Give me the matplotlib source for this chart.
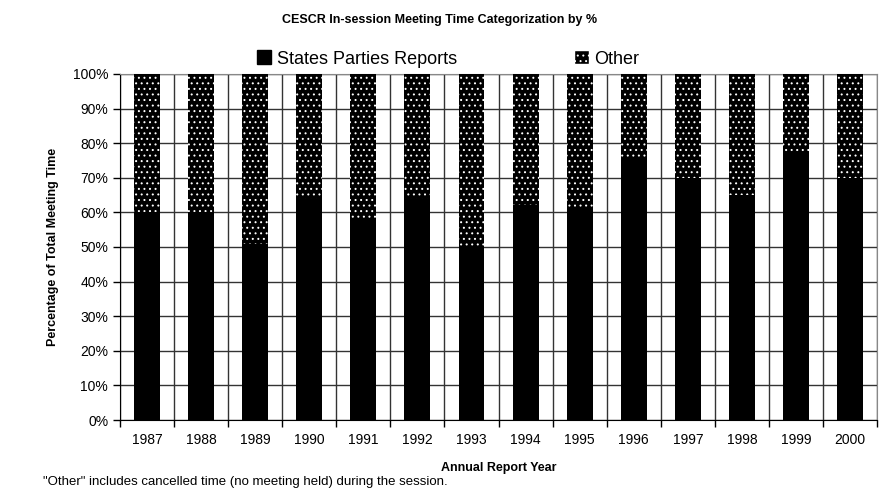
import numpy as np
import matplotlib
matplotlib.use('Agg')
import matplotlib.pyplot as plt
from matplotlib.patches import Patch
from matplotlib.ticker import FixedLocator, PercentFormatter

plt.rcParams['font.family'] = ['Liberation Sans', 'DejaVu Sans']
plt.rcParams['hatch.linewidth'] = 0.7

# data
years = ['1987', '1988', '1989', '1990', '1991', '1992', '1993',
         '1994', '1995', '1996', '1997', '1998', '1999', '2000']
reports = [60, 60, 51, 64, 58, 64, 50, 62, 61, 75, 70, 65, 77, 70]
other = [100 - v for v in reports]

fig = plt.figure(figsize=(8.96, 5.03), dpi=100, facecolor='white')
ax = fig.add_axes([0.1339, 0.165, 0.845, 0.688])

x = np.arange(len(years))
ax.bar(x, reports, width=0.48, color='black', linewidth=0, zorder=3)
ax.bar(x, other, bottom=reports, width=0.48, color='black',
       edgecolor='white', hatch='...', linewidth=0, zorder=3)

ax.set_xlim(-0.5, len(years) - 0.5)
ax.set_ylim(0, 100)
ax.set_yticks(np.arange(0, 101, 10))
ax.yaxis.set_major_formatter(PercentFormatter(decimals=0))
ax.set_xticks(x)
ax.set_xticklabels(years)
ax.xaxis.set_minor_locator(FixedLocator(np.arange(-0.5, len(years), 1.0)))
ax.tick_params(axis='x', which='major', length=0, pad=9, labelsize=10)
ax.tick_params(axis='x', which='minor', length=5, direction='out', width=1)
ax.tick_params(axis='y', length=5, direction='out', width=1, labelsize=10)

ax.grid(axis='y', which='major', color='#333333', linewidth=1, zorder=0)
ax.grid(axis='x', which='minor', color='#333333', linewidth=1, zorder=0)
for side in ['top', 'right']:
    ax.spines[side].set_color('#888888')
ax.spines['left'].set_color('black')
ax.spines['bottom'].set_color('black')

ax.set_ylabel('Percentage of Total Meeting Time', fontsize=9, fontweight='bold', labelpad=10)
ax.set_xlabel('Annual Report Year', fontsize=9, fontweight='bold', labelpad=11)

fig.text(440 / 896, 1 - 20 / 503, 'CESCR In-session Meeting Time Categorization by %',
         ha='center', va='center', fontsize=9, fontweight='bold')

handles = [Patch(facecolor='black', edgecolor='black', label='States Parties Reports'),
           Patch(facecolor='black', edgecolor='white', hatch='...', label='Other')]
fig.legend(handles=handles, loc='center', bbox_to_anchor=(448 / 896, 1 - 59 / 503),
           ncol=2, frameon=False, fontsize=13, columnspacing=6.5,
           handlelength=0.8, handleheight=0.8, handletextpad=0.3)

fig.text(43 / 896, 1 - 482 / 503,
         '"Other" includes cancelled time (no meeting held) during the session.',
         ha='left', va='center', fontsize=9.5)

fig.savefig('out.png', dpi=100)
